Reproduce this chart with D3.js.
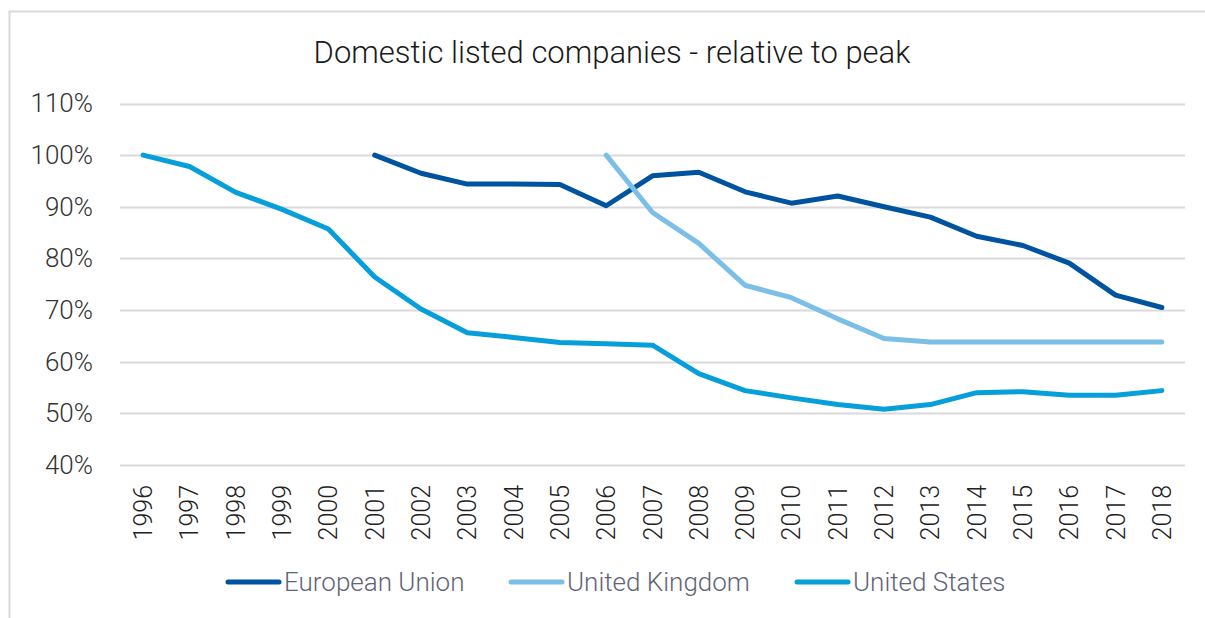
<!DOCTYPE html>
<html>
<head>
<meta charset="utf-8">
<script src="https://cdn.jsdelivr.net/npm/d3@7"></script>
<style>
  html, body { margin: 0; padding: 0; background: #fff; }
  svg { display: block; }
  text { font-family: Roboto, "Liberation Sans", sans-serif; font-weight: 300; }
</style>
</head>
<body>
<svg id="chart" width="1205" height="618"></svg>
<script>
const years = ["1996","1997","1998","1999","2000","2001","2002","2003","2004","2005","2006","2007","2008","2009","2010","2011","2012","2013","2014","2015","2016","2017","2018"];
const euValues = [null,null,null,null,null,1.000,0.965,0.944,0.944,0.943,0.902,0.960,0.967,0.929,0.907,0.921,0.900,0.880,0.843,0.825,0.791,0.729,0.705];
const ukValues = [null,null,null,null,null,null,null,null,null,null,1.000,0.889,0.829,0.748,0.724,0.683,0.645,0.638,0.638,0.638,0.638,0.638,0.638];
const usValues = [1.000,0.978,0.928,0.895,0.857,0.764,0.702,0.656,0.647,0.637,0.635,0.632,0.577,0.544,0.530,0.517,0.508,0.517,0.540,0.542,0.535,0.535,0.544];
const yTicks = [0.4,0.5,0.6,0.7,0.8,0.9,1.0,1.1];
const seriesNames = ["European Union","United Kingdom","United States"];
const title = "Domestic listed companies - relative to peak";

const colors = ["#00539f","#7bbfe6","#069fd9"];
const series = [euValues, ukValues, usValues];

const svg = d3.select("#chart");

// border
svg.append("path")
  .attr("d","M9.5,618 V11.5 H1205")
  .attr("fill","none").attr("stroke","#d9d9de").attr("stroke-width",2);

const x = d3.scaleBand().domain(years).range([120,1185]).padding(0);
const y = d3.scaleLinear().domain([0.4,1.1]).range([465,103.5]);
const cx = d => x(d) + x.bandwidth()/2;

// gridlines
svg.append("g").selectAll("line").data(yTicks).join("line")
  .attr("x1",120).attr("x2",1185)
  .attr("y1",d=>Math.round(y(d))+0.5).attr("y2",d=>Math.round(y(d))+0.5)
  .attr("stroke","#d9d9de").attr("stroke-width",2);

// y axis labels
const yAxis = d3.axisLeft(y).tickValues(yTicks).tickFormat(d3.format(".0%")).tickSize(0).tickPadding(0);
const gy = svg.append("g").attr("transform","translate(93,0)").call(yAxis);
gy.select(".domain").remove();
gy.selectAll("text").attr("font-size",26).attr("fill","#333").attr("font-family","Roboto, sans-serif").attr("font-weight",300);

// x axis labels
const xAxis = d3.axisBottom(x).tickSize(0).tickPadding(0);
const gx = svg.append("g").attr("transform","translate(0,485)").call(xAxis);
gx.select(".domain").remove();
gx.selectAll("text")
  .attr("font-size",25).attr("fill","#222").attr("font-family","Roboto, sans-serif").attr("font-weight",300)
  .attr("text-anchor","end")
  .attr("transform","rotate(-90)")
  .attr("x",0).attr("y",0).attr("dy","0.36em");

// lines
const line = d3.line()
  .defined(d => d.v !== null)
  .x(d => cx(d.year))
  .y(d => y(d.v));

series.forEach((vals,i) => {
  const data = years.map((yr,j)=>({year:yr, v:vals[j]}));
  svg.append("path").datum(data)
    .attr("d",line)
    .attr("fill","none")
    .attr("stroke",colors[i])
    .attr("stroke-width",5)
    .attr("stroke-linejoin","round")
    .attr("stroke-linecap","round");
});

// title
svg.append("text")
  .attr("x",612).attr("y",63)
  .attr("text-anchor","middle")
  .attr("font-size",31).attr("fill","#1a1a1a")
  .text(title);

// legend
const legendX = [226, 509, 795];
const lg = svg.append("g");
seriesNames.forEach((name,i)=>{
  lg.append("line")
    .attr("x1",legendX[i]+2).attr("x2",legendX[i]+53)
    .attr("y1",582).attr("y2",582)
    .attr("stroke",colors[i]).attr("stroke-width",5).attr("stroke-linecap","round");
  lg.append("text")
    .attr("x",legendX[i]+58).attr("y",582).attr("dy","0.36em")
    .attr("font-size",26).attr("fill","#5f6478")
    .text(name);
});
</script>
</body>
</html>
